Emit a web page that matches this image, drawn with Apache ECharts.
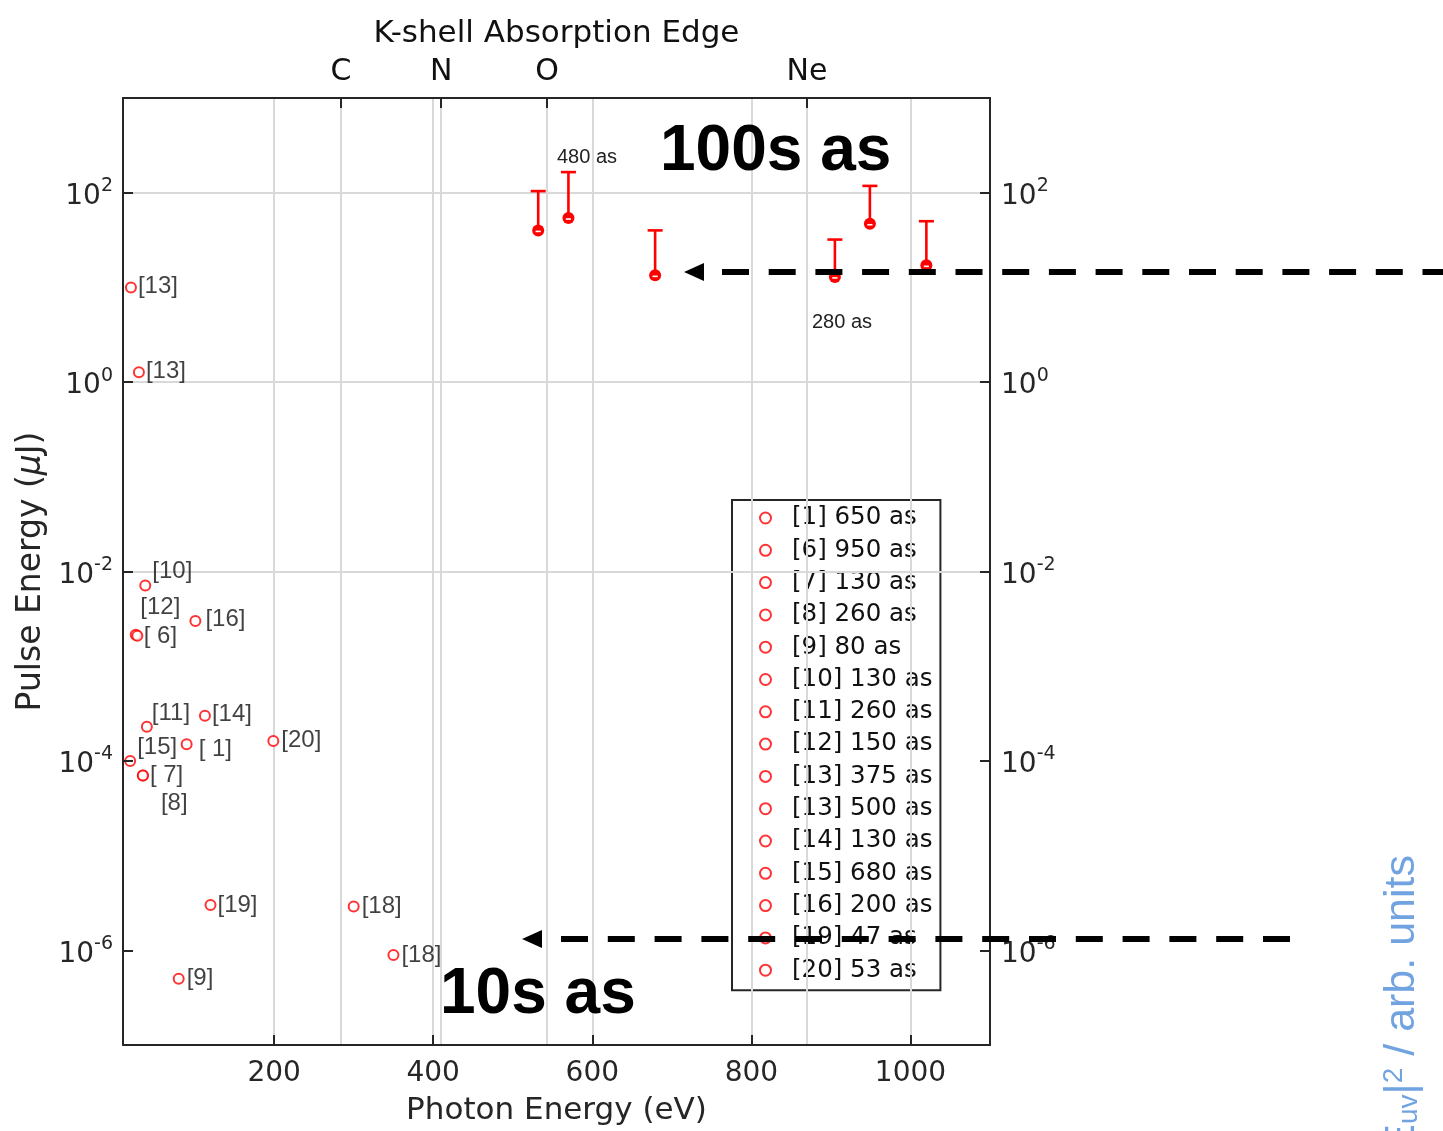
<!DOCTYPE html>
<html><head><meta charset="utf-8">
<script src="https://cdn.jsdelivr.net/npm/echarts@6/dist/echarts.min.js"></script>
<style>html,body{margin:0;padding:0;background:#fff}#c{width:1443px;height:1131px}</style>
</head><body><div id="c"></div>
<script>
// ---------------- data ----------------
const refNames = ['[1] 650 as','[6] 950 as','[7] 130 as','[8] 260 as','[9] 80 as','[10] 130 as','[11] 260 as','[12] 150 as','[13] 375 as','[13] 500 as','[14] 130 as','[15] 680 as','[16] 200 as','[19] 47 as','[20] 53 as'];
const refTags = ['[ 1]','[ 6]','[ 7]','[8]','[9]','[10]','[11]','[12]','[13]','[13]','[14]','[15]','[16]','[19]','[20]'];
const refPhotonEV = [90, 26, 35, 35, 80, 38, 40, 28, 20, 30, 113, 19, 101, 120, 199];
const refPulseUJ = [1.5e-4, 2.15e-3, 7.0e-5, 7.0e-5, 5.0e-7, 7.1e-3, 2.3e-4, 2.1e-3, 10, 1.27, 3.0e-4, 1.0e-4, 3.0e-3, 3.0e-6, 1.62e-4];
const ref18Tag = '[18]';
const ref18PhotonEV = [300, 350];
const ref18PulseUJ = [2.9e-6, 8.9e-7];
const xfelPhotonEV = [532, 570, 679, 905, 949, 1020];
const xfelPulseUJ = [40, 54, 13.4, 12.9, 47, 17.1];
const xfelUpperUJ = [104, 165, 40, 32, 118, 50];
const xTickValues = [200, 400, 600, 800, 1000];
const yTickValues = [1e-6, 1e-4, 1e-2, 1, 100];
const edgeNames = ['C', 'N', 'O', 'Ne'];
const edgeEV = [284, 410, 543, 870];

// ---------------- styles ----------------
const INK = '#262626';
const RED = '#ff0000';
const MFONT = 'DejaVu Sans';
const AFONT = 'Liberation Sans, Arial, sans-serif';
const BLUE = '#5893dc';
// label offsets (style only), by series order of refNames
const labelShift = [[4,5],[0,2],[-1,0],[10,28],[0,0],[-1,-14],[-3,-13],[-5,-28],[-1,-1],[-1,-1],[-1,-1],[-1,-14],[2,-2],[-1,0],[0,-1]];

const axisLine = {show:true, onZero:false, lineStyle:{color:INK, width:2}};
const tickStyle = {color:INK, width:2};
const supRich = {
  b:{fontSize:28, lineHeight:40, fontFamily:MFONT, color:INK},
  s:{fontSize:19, lineHeight:18, verticalAlign:'top', fontFamily:MFONT, color:INK}
};
function supFmt(v){
  const e = Math.round(Math.log10(v));
  return '{b|10}{s|' + e + '}';
}

const series = [];
// grid lines through the library's scales
series.push({
  type:'line', data:[], silent:true, z:1, xAxisIndex:0, yAxisIndex:0,
  markLine:{silent:true, symbol:['none','none'], animation:false, label:{show:false},
    lineStyle:{color:'#d9d9d9', width:2, type:'solid'},
    data: xTickValues.concat(edgeEV).map(v => ({xAxis:v})).concat(yTickValues.map(v => ({yAxis:v})))
  }
});
refNames.forEach((nm, i) => {
  series.push({
    type:'scatter', name:nm, z:5, xAxisIndex:0, yAxisIndex:0,
    symbol:'emptyCircle', symbolSize:10,
    itemStyle:{color:RED, borderColor:RED, borderWidth:1.6},
    label:{show:true, position:'right', distance:2, offset:labelShift[i],
      formatter: () => refTags[i], fontFamily:AFONT, fontSize:24, color:'#111'},
    data:[[refPhotonEV[i], refPulseUJ[i]]]
  });
});
series.push({
  type:'scatter', name:'ref18', z:5, symbol:'emptyCircle', symbolSize:10,
  itemStyle:{color:RED, borderColor:RED, borderWidth:1.6},
  label:{show:true, position:'right', distance:2, formatter: () => ref18Tag, fontFamily:AFONT, fontSize:24, color:'#111'},
  data: ref18PhotonEV.map((x, i) => [x, ref18PulseUJ[i]])
});
series.push({
  type:'custom', name:'xfelErr', z:6, xAxisIndex:0, yAxisIndex:0,
  encode:{x:0, y:1},
  renderItem: function(params, api){
    const p0 = api.coord([api.value(0), api.value(1)]);
    const p1 = api.coord([api.value(0), api.value(2)]);
    const cap = 7.5;
    return {type:'group', children:[
      {type:'line', shape:{x1:p0[0], y1:p0[1], x2:p1[0], y2:p1[1]}, style:{stroke:RED, lineWidth:2.6}},
      {type:'line', shape:{x1:p1[0]-cap, y1:p1[1], x2:p1[0]+cap, y2:p1[1]}, style:{stroke:RED, lineWidth:2.6}},
      {type:'circle', shape:{cx:p0[0], cy:p0[1], r:6}, style:{fill:RED, stroke:null}},
      {type:'line', shape:{x1:p0[0]-2.6, y1:p0[1]+1, x2:p0[0]+2.6, y2:p0[1]+1}, style:{stroke:'#fff', lineWidth:1.6}}
    ]};
  },
  data: xfelPhotonEV.map((x, i) => [x, xfelPulseUJ[i], xfelUpperUJ[i]])
});

const option = {
  animation:false,
  backgroundColor:'#fff',
  grid:{left:123, right:453, top:98, bottom:84, containLabel:false},
  xAxis:[
    {type:'value', position:'bottom', min:10, max:1100, z:10,
      axisLine:axisLine,
      axisTick:{show:true, inside:true, length:10, lineStyle:tickStyle, customValues:xTickValues},
      axisLabel:{customValues:xTickValues, margin:15, fontSize:28, fontFamily:MFONT, color:INK, formatter: v => String(v)},
      splitLine:{show:false},
      name:'Photon Energy (eV)', nameLocation:'middle', nameGap:50,
      nameTextStyle:{fontSize:31, fontFamily:MFONT, color:INK}},
    {type:'value', position:'top', min:10, max:1100, z:10,
      axisLine:axisLine,
      axisTick:{show:true, inside:true, length:10, lineStyle:tickStyle, customValues:edgeEV},
      axisLabel:{customValues:edgeEV, margin:11, fontSize:30, fontFamily:MFONT, color:'#111',
        formatter: v => edgeNames[edgeEV.indexOf(v)]},
      splitLine:{show:false},
      name:'K-shell Absorption Edge', nameLocation:'middle', nameGap:49,
      nameTextStyle:{fontSize:31, fontFamily:MFONT, color:'#111'}}
  ],
  yAxis:[
    {type:'log', logBase:10, min:1e-7, max:1e3, position:'left', z:10,
      axisLine:axisLine,
      axisTick:{show:true, inside:true, length:10, lineStyle:tickStyle, customValues:yTickValues},
      axisLabel:{customValues:yTickValues, margin:10, padding:[8,0,0,0], formatter:supFmt, rich:supRich},
      splitLine:{show:false}, minorTick:{show:false}, minorSplitLine:{show:false},
      name:'{n|Pulse Energy (}{i|μ}{n|J)}', nameLocation:'middle', nameGap:75, nameRotate:90,
      nameTextStyle:{fontSize:33, fontFamily:MFONT, color:INK,
        rich:{n:{fontSize:33, fontFamily:MFONT, color:INK}, i:{fontSize:33, fontFamily:MFONT, fontStyle:'italic', color:INK}}}},
    {type:'log', logBase:10, min:1e-7, max:1e3, position:'right', z:10,
      axisLine:axisLine,
      axisTick:{show:true, inside:true, length:10, lineStyle:tickStyle, customValues:yTickValues},
      axisLabel:{customValues:yTickValues, margin:11, padding:[8,0,0,0], formatter:supFmt, rich:supRich},
      splitLine:{show:false}, minorTick:{show:false}, minorSplitLine:{show:false}}
  ],
  legend:{
    data:refNames, orient:'vertical', left:732, top:500,
    padding:[4,8,6,27], itemGap:4.3, itemWidth:11, itemHeight:11,
    icon:'emptyCircle', itemStyle:{borderWidth:1.5},
    textStyle:{fontSize:24.5, fontFamily:MFONT, color:'#111', lineHeight:28, padding:[0,0,0,16]},
    borderColor:INK, borderWidth:2, backgroundColor:'transparent', selectedMode:false
  },
  graphic:[
    {type:'text', x:557, y:157, z:20, style:{text:'480 as', fontSize:20, fontFamily:AFONT, fill:'#222', align:'left', verticalAlign:'middle'}},
    {type:'text', x:812, y:322, z:20, style:{text:'280 as', fontSize:20, fontFamily:AFONT, fill:'#222', align:'left', verticalAlign:'middle'}},
    {type:'text', x:660, y:152, z:20, style:{text:'100s as', fontSize:64, fontWeight:'bold', fontFamily:AFONT, fill:'#000', align:'left', verticalAlign:'middle'}},
    {type:'text', x:440, y:995, z:20, style:{text:'10s as', fontSize:64, fontWeight:'bold', fontFamily:AFONT, fill:'#000', align:'left', verticalAlign:'middle'}},
    {type:'line', z:30, shape:{x1:722, y1:272, x2:1443, y2:272}, style:{stroke:'#000', lineWidth:6, lineDash:[27,19.7]}},
    {type:'polygon', z:30, shape:{points:[[684,272],[704,263],[704,281]]}, style:{fill:'#000'}},
    {type:'line', z:30, shape:{x1:1290, y1:939, x2:561, y2:939}, style:{stroke:'#000', lineWidth:6, lineDash:[27,19.8]}},
    {type:'polygon', z:30, shape:{points:[[522,939],[542,930],[542,948]]}, style:{fill:'#000'}},
    {type:'text', x:1402, y:855, rotation:Math.PI/2, z:20,
      style:{text:'{m|E}{sub|uv}{m||}{sup|2}{m| / arb. units}', align:'right', verticalAlign:'middle', fill:BLUE, opacity:0.85,
        rich:{m:{fontSize:43, fontFamily:AFONT, fill:BLUE, color:BLUE},
              sub:{fontSize:28, fontFamily:AFONT, fill:BLUE, color:BLUE, verticalAlign:'bottom', lineHeight:20},
              sup:{fontSize:28, fontFamily:AFONT, fill:BLUE, color:BLUE, verticalAlign:'top', lineHeight:20}}}}
  ],
  series: series
};
const chart = echarts.init(document.getElementById('c'), null, {renderer:'canvas'});
chart.setOption(option);
</script>
</body></html>
